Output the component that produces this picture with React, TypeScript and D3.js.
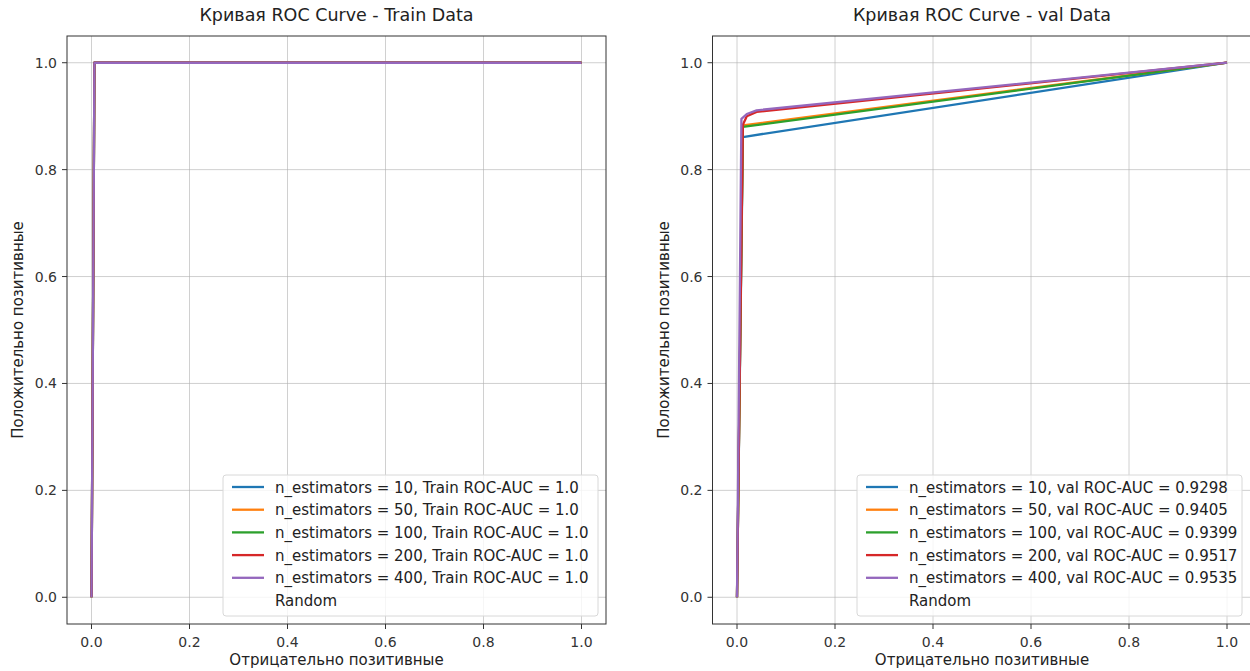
import React from 'react'
import * as d3 from 'd3'

// values
const estimators = [10, 50, 100, 200, 400]
const colors = ['#1f77b4', '#ff7f0e', '#2ca02c', '#d62728', '#9467bd']
const ticks = [0.0, 0.2, 0.4, 0.6, 0.8, 1.0]

const trainAuc = ['1.0', '1.0', '1.0', '1.0', '1.0']
const trainFpr = [
  [0, 0.006, 1],
  [0, 0.006, 1],
  [0, 0.006, 1],
  [0, 0.006, 1],
  [0, 0.006, 1],
]
const trainTpr = [
  [0, 1, 1],
  [0, 1, 1],
  [0, 1, 1],
  [0, 1, 1],
  [0, 1, 1],
]

const valAuc = ['0.9298', '0.9405', '0.9399', '0.9517', '0.9535']
const valFpr = [
  [0, 0.012, 1],
  [0, 0.012, 1],
  [0, 0.012, 1],
  [0, 0.012, 0.02, 0.04, 1],
  [0, 0.009, 0.02, 0.04, 1],
]
const valTpr = [
  [0, 0.861, 1],
  [0, 0.883, 1],
  [0, 0.88, 1],
  [0, 0.884, 0.9, 0.908, 1],
  [0, 0.895, 0.904, 0.911, 1],
]

const FONT = 'DejaVu Sans, sans-serif'

function Panel(props) {
  const { left, right, top, bottom, title, fpr, tpr, labels, legendX, legendW } = props
  const x = d3.scaleLinear().domain([-0.05, 1.05]).range([left, right])
  const y = d3.scaleLinear().domain([-0.05, 1.05]).range([bottom, top])
  const line = d3.line().x(d => x(d[0])).y(d => y(d[1]))

  const rowH = 22.7
  const legendTop = 475
  const legendH = 141

  return (
    <g fontFamily={FONT}>
      <text x={(left + right) / 2} y={top - 15} textAnchor="middle" fontSize={17.5} fill="#222">{title}</text>
      {ticks.map(t => (
        <g key={'g' + t}>
          <line x1={x(t)} x2={x(t)} y1={top} y2={bottom} stroke="#b0b0b0" strokeOpacity={0.6} strokeWidth={1} />
          <line x1={left} x2={right} y1={y(t)} y2={y(t)} stroke="#b0b0b0" strokeOpacity={0.6} strokeWidth={1} />
        </g>
      ))}
      {fpr.map((xs, i) => (
        <path key={'c' + i}
          d={line(xs.map((v, j) => [v, tpr[i][j]]))}
          fill="none" stroke={colors[i]} strokeWidth={2.3} strokeLinejoin="round" />
      ))}
      <rect x={left} y={top} width={right - left} height={bottom - top} fill="none" stroke="#333" strokeWidth={1} />
      {ticks.map(t => (
        <g key={'t' + t} fontSize={14} fill="#333">
          <line x1={x(t)} x2={x(t)} y1={bottom} y2={bottom + 5} stroke="#333" />
          <text x={x(t)} y={bottom + 23} textAnchor="middle">{t.toFixed(1)}</text>
          <line x1={left - 5} x2={left} y1={y(t)} y2={y(t)} stroke="#333" />
          <text x={left - 10} y={y(t) + 5} textAnchor="end">{t.toFixed(1)}</text>
        </g>
      ))}
      <text x={(left + right) / 2} y={bottom + 41} textAnchor="middle" fontSize={15} fill="#222">Отрицательно позитивные</text>
      <text transform={`translate(${left - 44},${(top + bottom) / 2}) rotate(-90)`} textAnchor="middle" fontSize={15} fill="#222">Положительно позитивные</text>

      <rect x={legendX} y={legendTop} width={legendW} height={legendH} rx={3} fill="#fff" fillOpacity={0.8} stroke="#d8d8d8" />
      {labels.map((lab, i) => (
        <g key={'l' + i}>
          <line x1={legendX + 9} x2={legendX + 41} y1={legendTop + 12 + i * rowH} y2={legendTop + 12 + i * rowH} stroke={colors[i]} strokeWidth={2.3} />
          <text x={legendX + 52} y={legendTop + 17.5 + i * rowH} fontSize={15} fill="#222">{lab}</text>
        </g>
      ))}
      <text x={legendX + 52} y={legendTop + 17.5 + 5 * rowH} fontSize={15} fill="#222">Random</text>
    </g>
  )
}

export default function App() {
  const trainLabels = estimators.map((n, i) => `n_estimators = ${n}, Train ROC-AUC = ${trainAuc[i]}`)
  const valLabels = estimators.map((n, i) => `n_estimators = ${n}, val ROC-AUC = ${valAuc[i]}`)
  return (
    <svg width={1250} height={671} style={{ position: 'absolute', left: 0, top: 0, background: '#fff' }}>
      <Panel left={67} right={606} top={36} bottom={624} title="Кривая ROC Curve - Train Data"
        fpr={trainFpr} tpr={trainTpr} labels={trainLabels} legendX={223} legendW={375} />
      <Panel left={712.5} right={1251.5} top={36} bottom={624} title="Кривая ROC Curve - val Data"
        fpr={valFpr} tpr={valTpr} labels={valLabels} legendX={857} legendW={385} />
    </svg>
  )
}
